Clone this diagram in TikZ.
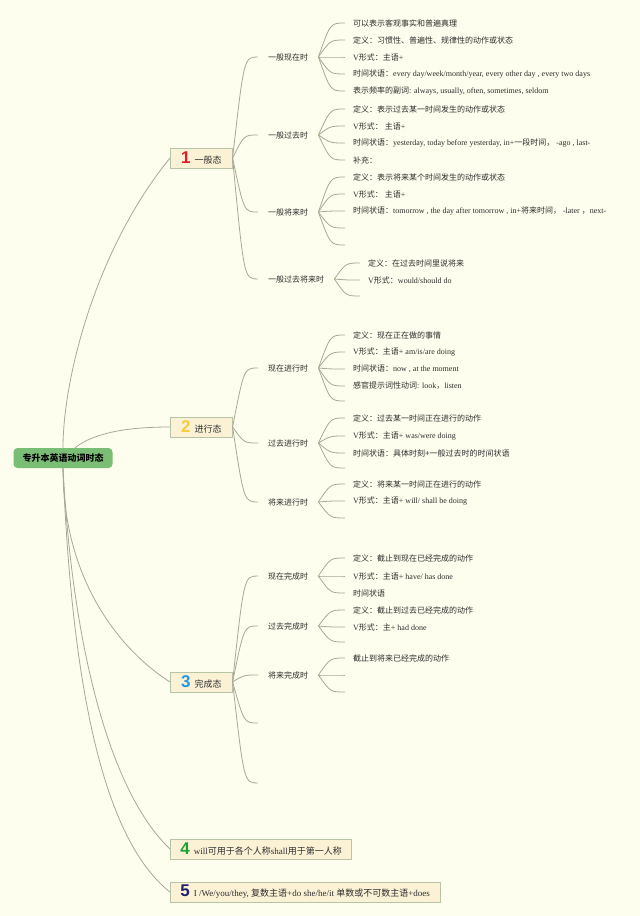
\documentclass[tikz,border=0pt]{standalone}
\usepackage{fontspec}
\setmainfont{Liberation Serif}
\newfontfamily\cjk{Noto Sans CJK SC}
\newfontfamily\numfont{Liberation Sans}
\usetikzlibrary{calc}
\definecolor{bgcol}{RGB}{254,254,238}
\definecolor{rootfill}{RGB}{122,190,118}
\definecolor{boxfill}{RGB}{251,242,214}
\definecolor{boxline}{RGB}{184,196,166}
\definecolor{linkcol}{RGB}{168,168,152}
\definecolor{txtcol}{RGB}{45,45,45}
\definecolor{numone}{RGB}{222,30,40}
\definecolor{numtwo}{RGB}{246,206,60}
\definecolor{numthree}{RGB}{38,150,222}
\definecolor{numfour}{RGB}{30,160,50}
\definecolor{numfive}{RGB}{30,32,110}
\newcommand\zh[1]{{\cjk #1}}
\newcommand\badge[2]{{\numfont\bfseries\fontsize{17}{17}\selectfont\color{#1}#2}\hspace{4pt}}
\begin{document}
\begin{tikzpicture}[x=1pt,y=-1pt,
  link/.style={draw=linkcol,line width=0.8pt},
  rootbox/.style={fill=rootfill,rounded corners=4pt,minimum width=99pt,minimum height=20pt,font=\cjk\bfseries\fontsize{9}{10}\selectfont,text=black},
  catbox/.style={anchor=west,draw=boxline,fill=boxfill,line width=0.6pt,minimum height=20pt,inner xsep=10pt,font=\fontsize{9}{10}\selectfont,text=txtcol},
  tense/.style={anchor=west,inner xsep=10pt,inner ysep=2pt,font=\cjk\fontsize{8}{9}\selectfont,text=txtcol},
  leaf/.style={anchor=west,inner xsep=8pt,inner ysep=1pt,font=\fontsize{8}{9}\selectfont,text=txtcol}]
\fill[bgcol] (0,0) rectangle (640,916);
\useasboundingbox (0,0) rectangle (640,916);

% root and the five groups
\node[rootbox] (root) at (63,458) {专升本英语动词时态};
\node[catbox,minimum width=62pt] (c1) at (170,158) {\badge{numone}{1}\zh{一般态}};
\node[catbox,minimum width=62pt] (c2) at (170,427) {\badge{numtwo}{2}\zh{进行态}};
\node[catbox,minimum width=62pt] (c3) at (170,682) {\badge{numthree}{3}\zh{完成态}};
\node[catbox] (c4) at (170,849) {\badge{numfour}{4}will\zh{可用于各个人称}shall\zh{用于第一人称}};
\node[catbox] (c5) at (170,892) {\badge{numfive}{5}I /We/you/they, \zh{复数主语}+do she/he/it \zh{单数或不可数主语}+does};

\draw[link] (root.north) .. controls (63,380) and (95,250) .. (c1.west);
\draw[link] ([xshift=12pt]root.north) .. controls (95,432) and (130,427) .. (c2.west);
\draw[link] (root.south) .. controls (63,580) and (120,650) .. (c3.west);
\draw[link] (root.south) .. controls (72,640) and (108,790) .. (c4.west);
\draw[link] (root.south) .. controls (72,690) and (104,840) .. (c5.west);

% tenses
\node[tense] (t11) at (258,57) {一般现在时};
\node[tense] (t12) at (258,135) {一般过去时};
\node[tense] (t13) at (258,212) {一般将来时};
\node[tense] (t14) at (258,279) {一般过去将来时};
\node[tense] (t21) at (258,368) {现在进行时};
\node[tense] (t22) at (258,443) {过去进行时};
\node[tense] (t23) at (258,502) {将来进行时};
\node[tense] (t31) at (258,576) {现在完成时};
\node[tense] (t32) at (258,626) {过去完成时};
\node[tense] (t33) at (258,675) {将来完成时};
\node[tense] (t34) at (258,723) {};
\node[tense] (t35) at (258,783) {};

% leaves
\node[leaf] (t11a) at (345,23) {\zh{可以表示客观事实和普遍真理}};
\node[leaf] (t11b) at (345,40) {\zh{定义：习惯性、普遍性、规律性的动作或状态}};
\node[leaf] (t11c) at (345,57) {V\zh{形式：主语}+};
\node[leaf] (t11d) at (345,74) {\zh{时间状语：}every day/week/month/year, every other day , every two days};
\node[leaf] (t11e) at (345,91) {\zh{表示频率的副词}: always, usually, often, sometimes, seldom};
\node[leaf] (t12a) at (345,109) {\zh{定义：表示过去某一时间发生的动作或状态}};
\node[leaf] (t12b) at (345,126) {V\zh{形式： 主语}+};
\node[leaf] (t12c) at (345,143) {\zh{时间状语：}yesterday, today before yesterday, in+\zh{一段时间，}\ -ago , last-};
\node[leaf] (t12d) at (345,160) {\zh{补充：}};
\node[leaf] (t13a) at (345,177) {\zh{定义：表示将来某个时间发生的动作或状态}};
\node[leaf] (t13b) at (345,194) {V\zh{形式： 主语}+};
\node[leaf] (t13c) at (345,211) {\zh{时间状语：}tomorrow , the day after tomorrow , in+\zh{将来时间，}\ -later \zh{，}next-};
\node[leaf] (t13d) at (345,228) {};
\node[leaf] (t13e) at (345,245) {};
\node[leaf] (t14a) at (360,263) {\zh{定义：在过去时间里说将来}};
\node[leaf] (t14b) at (360,280) {V\zh{形式：}would/should do};
\node[leaf] (t14c) at (360,296) {};
\node[leaf] (t21a) at (345,335) {\zh{定义：现在正在做的事情}};
\node[leaf] (t21b) at (345,352) {V\zh{形式：主语}+ am/is/are doing};
\node[leaf] (t21c) at (345,369) {\zh{时间状语：}now , at the moment};
\node[leaf] (t21d) at (345,386) {\zh{感官提示词性动词}: look\zh{，}listen};
\node[leaf] (t21e) at (345,401) {};
\node[leaf] (t22a) at (345,418) {\zh{定义：过去某一时间正在进行的动作}};
\node[leaf] (t22b) at (345,436) {V\zh{形式：主语}+ was/were doing};
\node[leaf] (t22c) at (345,453) {\zh{时间状语：具体时刻+一般过去时的时间状语}};
\node[leaf] (t22d) at (345,468) {};
\node[leaf] (t23a) at (345,484) {\zh{定义：将来某一时间正在进行的动作}};
\node[leaf] (t23b) at (345,501) {V\zh{形式：主语}+ will/ shall be doing};
\node[leaf] (t23c) at (345,518) {};
\node[leaf] (t31a) at (345,558) {\zh{定义：截止到现在已经完成的动作}};
\node[leaf] (t31b) at (345,576) {V\zh{形式：主语}+ have/ has done};
\node[leaf] (t31c) at (345,593) {\zh{时间状语}};
\node[leaf] (t32a) at (345,610) {\zh{定义：截止到过去已经完成的动作}};
\node[leaf] (t32b) at (345,627) {V\zh{形式：主}+ had done};
\node[leaf] (t32c) at (345,642) {};
\node[leaf] (t33a) at (345,658) {\zh{截止到将来已经完成的动作}};
\node[leaf] (t33b) at (345,675) {};
\node[leaf] (t33c) at (345,692) {};

\foreach \p/\c in {c1/t11,c1/t12,c1/t13,c1/t14,c2/t21,c2/t22,c2/t23,
    c3/t31,c3/t32,c3/t33,c3/t34,c3/t35,
    t11/t11a,t11/t11b,t11/t11c,t11/t11d,t11/t11e,
    t12/t12a,t12/t12b,t12/t12c,t12/t12d,
    t13/t13a,t13/t13b,t13/t13c,t13/t13d,t13/t13e,
    t14/t14a,t14/t14b,t14/t14c,
    t21/t21a,t21/t21b,t21/t21c,t21/t21d,t21/t21e,
    t22/t22a,t22/t22b,t22/t22c,t22/t22d,
    t23/t23a,t23/t23b,t23/t23c,
    t31/t31a,t31/t31b,t31/t31c,
    t32/t32a,t32/t32b,t32/t32c,
    t33/t33a,t33/t33b,t33/t33c}
  \draw[link] (\p.east) .. controls ($(\p.east |- \c.west)!.45!(\c.west)$) .. (\c.west);
\end{tikzpicture}
\end{document}
